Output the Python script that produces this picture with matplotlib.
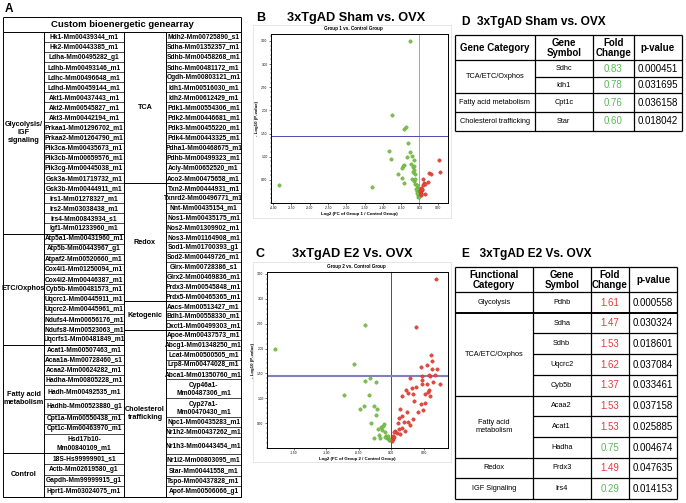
import matplotlib
matplotlib.use("Agg")
import matplotlib.pyplot as plt
import numpy as np

plt.rcParams["font.family"] = ["Liberation Sans", "DejaVu Sans"]

W, H = 686, 503

# ---- panel A: custom gene array ----
glyco_genes = ["Hk1-Mm00439344_m1", "Hk2-Mm00443385_m1", "Ldha-Mm00495282_g1",
               "Ldhb-Mm00493146_m1", "Ldhc-Mm00496648_m1", "Ldhd-Mm00459144_m1",
               "Akt1-Mm00437443_m1", "Akt2-Mm00545827_m1", "Akt3-Mm00442194_m1",
               "Prkaa1-Mm01296702_m1", "Prkaa2-Mm01264790_m1", "Pik3ca-Mm00435673_m1",
               "Pik3cb-Mm00659576_m1", "Pik3cg-Mm00445038_m1", "Gsk3a-Mm01719732_m1",
               "Gsk3b-Mm00444911_m1", "Irs1-Mm01278327_m1", "Irs2-Mm03038438_m1",
               "Irs4-Mm00843934_s1", "Igf1-Mm01233960_m1"]
etc_genes = ["Atp5a1-Mm00431960_m1", "Atp5b-Mm00443967_g1", "Atpaf2-Mm00520660_m1",
             "Cox4i1-Mm01250094_m1", "Cox4i2-Mm00446387_m1", "Cyb5b-Mm00481573_m1",
             "Uqcrc1-Mm00445911_m1", "Uqcrc2-Mm00445961_m1", "Ndufs4-Mm00656176_m1",
             "Ndufs8-Mm00523063_m1", "Uqcrfs1-Mm00481849_m1"]
fatty_genes = ["Acat1-Mm00507463_m1", "Acaa1a-Mm00728460_s1", "Acaa2-Mm00624282_m1",
               "Hadha-Mm00805228_m1", "Hadh-Mm00492535_m1", "Hadhb-Mm00523880_g1",
               "Cpt1a-Mm00550438_m1", "Cpt1c-Mm00463970_m1", "Hsd17b10-\nMm00840109_m1"]
control_genes = ["18S-Hs99999901_s1", "Actb-Mm02619580_g1", "Gapdh-Mm99999915_g1",
                 "Hprt1-Mm03024075_m1"]
tca_genes = ["Mdh2-Mm00725890_s1", "Sdha-Mm01352357_m1", "Sdhb-Mm00458268_m1",
             "Sdhc-Mm00481172_m1", "Ogdh-Mm00803121_m1", "Idh1-Mm00516030_m1",
             "Idh2-Mm00612429_m1", "Pdk1-Mm00554306_m1", "Pdk2-Mm00446681_m1",
             "Pdk3-Mm00455220_m1", "Pdk4-Mm00443325_m1", "Pdha1-Mm00468675_m1",
             "Pdhb-Mm00499323_m1", "Acly-Mm00652520_m1", "Aco2-Mm00475658_m1"]
redox_genes = ["Txn2-Mm00444931_m1", "Txnrd2-Mm00496771_m1", "Nnt-Mm00435154_m1",
               "Nos1-Mm00435175_m1", "Nos2-Mm01309902_m1", "Nos3-Mm01164908_m1",
               "Sod1-Mm01700393_g1", "Sod2-Mm00449726_m1", "Glrx-Mm00728386_s1",
               "Glrx2-Mm00469836_m1", "Prdx3-Mm00545848_m1", "Prdx5-Mm00465365_m1"]
keto_genes = ["Aacs-Mm00513427_m1", "Bdh1-Mm00558330_m1", "Oxct1-Mm00499303_m1"]
chol_genes = ["Apoe-Mm00437573_m1", "Abcg1-Mm01348250_m1", "Lcat-Mm00500505_m1",
              "Lrp8-Mm00474028_m1", "Abca1-Mm01350760_m1", "Cyp46a1-\nMm00487306_m1",
              "Cyp27a1-\nMm00470430_m1", "Npc1-Mm00435283_m1", "Nr1h2-Mm00437262_m1",
              "Nr1h3-Mm00443454_m1", "Nr1i2-Mm00803095_m1", "Star-Mm00441558_m1",
              "Tspo-Mm00437828_m1", "Apof-Mm00506066_g1"]

left_labels = ["Glycolysis/\nIGF\nsignaling", "ETC/Oxphos", "Fatty acid\nmetabolism", "Control"]
right_labels = ["TCA", "Redox", "Ketogenic", "Cholesterol\ntrafficking"]

# ---- panel B: Sham vs OVX volcano (log2 FC, -log10 p) ----
b_green_x = [-0.27, -0.74, -0.37, -0.41, -0.31, -0.83, -0.79, -0.25, -0.35, -0.20,
             -0.16, -0.41, -0.45, -0.47, -0.19, -0.15, -0.58, -0.48, -0.42, -0.17,
             -0.13, -0.21, -0.15, -0.11, -0.08, -0.06, -0.05, -0.03, -0.01, -0.08,
             -0.10, -0.05, -0.04, -3.84, -1.31, -0.14, -0.22, -0.12, -0.07, -0.02]
b_green_y = [3.49, 1.89, 1.65, 1.60, 1.30, 1.13, 0.96, 1.10, 1.00, 1.01,
             0.93, 0.83, 0.80, 0.76, 0.77, 0.80, 0.62, 0.55, 0.44, 0.67,
             0.62, 0.52, 0.47, 0.42, 0.38, 0.33, 0.28, 0.22, 0.18, 0.26,
             0.31, 0.17, 0.14, 0.38, 0.35, 0.72, 0.85, 0.52, 0.22, 0.13]
b_red_x = [0.53, 0.55, 0.26, 0.31, 0.22, 0.10, 0.12, 0.09, 0.14, 0.05, 0.06, 0.02,
           0.04, 0.08, 0.16, 0.03, 0.05]
b_red_y = [0.93, 0.68, 0.65, 0.62, 0.46, 0.52, 0.43, 0.39, 0.40, 0.33, 0.28, 0.25,
           0.22, 0.31, 0.20, 0.17, 0.19]

# ---- panel C: E2 vs OVX volcano ----
c_green_x = [-0.41, -1.79, -0.58, -0.41, -0.33, -0.23, -0.72, -0.35, -0.48, -0.42,
             -0.26, -0.22, -0.23, -0.31, -0.21, -0.16, -0.13, -0.11, -0.14, -0.19,
             -0.26, -0.18, -0.09, -0.08, -0.06, -0.04, -0.03, -0.05, -0.09, -0.02]
c_green_y = [2.47, 2.00, 1.69, 1.34, 1.40, 1.33, 1.06, 1.06, 0.79, 0.85,
             0.85, 0.78, 0.67, 0.50, 0.39, 0.42, 0.44, 0.48, 0.36, 0.26,
             0.20, 0.20, 0.32, 0.24, 0.20, 0.17, 0.19, 0.24, 0.22, 0.16]
c_red_x = [0.69, 0.38, 0.61, 0.62, 0.55, 0.70, 0.45, 0.62, 0.60, 0.67, 0.58, 0.47,
           0.29, 0.47, 0.47, 0.75, 0.64, 0.54, 0.38, 0.32, 0.22, 0.25, 0.34, 0.58,
           0.56, 0.52, 0.59, 0.17, 0.35, 0.46, 0.51, 0.48, 0.24, 0.13, 0.17, 0.34,
           0.19, 0.25, 0.28, 0.11, 0.10, 0.17, 0.12, 0.21, 0.06, 0.04, 0.08, 0.02,
           0.02, 0.04, 0.01, 0.13, 0.41]
c_red_y = [3.40, 2.43, 1.88, 1.74, 1.67, 1.58, 1.63, 1.58, 1.45, 1.47, 1.47, 1.45,
           1.41, 1.36, 1.28, 1.28, 1.33, 1.28, 1.22, 1.20, 1.17, 1.11, 1.09, 1.16,
           1.13, 1.08, 1.04, 1.04, 0.95, 0.89, 0.91, 0.77, 0.73, 0.78, 0.65, 0.59,
           0.52, 0.52, 0.46, 0.61, 0.50, 0.41, 0.38, 0.35, 0.35, 0.33, 0.31, 0.24,
           0.19, 0.22, 0.15, 0.29, 0.73]

# ---- panel D / E tables ----
d_header = ["Gene Category", "Gene\nSymbol", "Fold\nChange", "p-value"]
d_categories = ["TCA/ETC/Oxphos", "Fatty acid metabolism", "Cholesterol trafficking"]
d_cat_rows = [2, 1, 1]
d_symbols = ["Sdhc", "Idh1", "Cpt1c", "Star"]
d_fold = [0.83, 0.78, 0.76, 0.60]
d_pvals = ["0.000451", "0.031695", "0.036158", "0.018042"]

e_header = ["Functional\nCategory", "Gene\nSymbol", "Fold\nChange", "p-value"]
e_categories = ["Glycolysis", "TCA/ETC/Oxphos", "Fatty acid\nmetabolism", "Redox", "IGF Signaling"]
e_cat_rows = [1, 4, 3, 1, 1]
e_symbols = ["Pdhb", "Sdha", "Sdhb", "Uqcrc2", "Cyb5b", "Acaa2", "Acat1", "Hadha", "Prdx3", "Irs4"]
e_fold = [1.61, 1.47, 1.53, 1.62, 1.37, 1.53, 1.53, 0.75, 1.49, 0.29]
e_pvals = ["0.000558", "0.030324", "0.018601", "0.037084", "0.033461",
           "0.037158", "0.025885", "0.004674", "0.047635", "0.014153"]

GREEN_PT = "#7cc04e"
RED_PT = "#e8473d"
GREEN_TXT = "#5cb85a"
RED_TXT = "#e0393b"

fig = plt.figure(figsize=(W / 100, H / 100), dpi=100)
base = fig.add_axes([0, 0, 1, 1])
base.set_xlim(0, W)
base.set_ylim(H, 0)
base.axis("off")


def hline(x0, x1, y, lw=0.7):
    base.plot([x0, x1], [y, y], color="black", lw=lw, solid_capstyle="butt")


def vline(x, y0, y1, lw=0.7):
    base.plot([x, x], [y0, y1], color="black", lw=lw, solid_capstyle="butt")


def px_axes(left, top, right, bottom):
    return fig.add_axes([left / W, 1 - bottom / H, (right - left) / W, (bottom - top) / H])


# ================= panel A =================
base.text(5, 9, "A", fontsize=8.5, fontweight="bold", va="center", ha="left")
ax_l, ax_c1, ax_m, ax_c2, ax_r = 3, 44, 124, 166, 241
top, head_bot, bot = 17, 31.5, 497
hline(ax_l, ax_r, top)
hline(ax_l, ax_r, head_bot)
hline(ax_l, ax_r, bot)
vline(ax_l, top, bot)
vline(ax_r, top, bot)
for x in (ax_c1, ax_m, ax_c2):
    vline(x, head_bot, bot)
base.text((ax_l + ax_r) / 2, (top + head_bot) / 2 + 0.5, "Custom bioenergetic genearray",
          fontsize=6.8, fontweight="bold", ha="center", va="center")

left_groups = [
    (glyco_genes, [1] * 20, (31.5, 233.5)),
    (etc_genes, [1] * 11, (233.5, 344.5)),
    (fatty_genes, [1, 1, 1, 1, 1.45, 1.45, 1, 1, 1.95], (344.5, 453)),
    (control_genes, [1] * 4, (453, bot)),
]
right_groups = [
    (tca_genes, [1] * 15, (31.5, 183)),
    (redox_genes, [1] * 12, (183, 301)),
    (keto_genes, [1] * 3, (301, 330)),
    (chol_genes, [1, 1, 1, 1, 1, 1.9, 1.9, 1, 1, 1.8, 1.08, 1.08, 1.08, 1.08], (330, bot)),
]


def draw_side(groups, labels, xc0, xg0, xg1):
    for (genes, units, (y0, y1)), label in zip(groups, labels):
        h = (y1 - y0) / sum(units)
        y = y0
        for gene, u in zip(genes, units):
            base.text((xg0 + xg1) / 2, y + u * h / 2 + 0.3, gene, fontsize=4.8,
                      fontweight="bold", ha="center", va="center", linespacing=1.05)
            y += u * h
            if y < y1 - 0.5:
                hline(xg0, xg1, y, lw=0.5)
        hline(xc0, xg1, y1)
        base.text((xc0 + xg0) / 2, (y0 + y1) / 2, label, fontsize=5.2,
                  fontweight="bold", ha="center", va="center", linespacing=1.15)


draw_side(left_groups, left_labels, ax_l, ax_c1, ax_m)
draw_side(right_groups, right_labels, ax_m, ax_c2, ax_r)


# ================= panels B & C =================
def volcano(ax, gx, gy, rx, ry, xlim, ylim, xticks, yticks, thr, vcol, hcol, hlw, xlabel):
    ax.set_facecolor("white")
    ax.axvline(0, color=vcol, lw=0.6, zorder=1)
    ax.axhline(thr, color=hcol, lw=hlw, zorder=1)
    ax.scatter(gx, gy, s=6, c=GREEN_PT, edgecolors="#5fa832", linewidths=0.3, zorder=3)
    ax.scatter(rx, ry, s=6, c=RED_PT, edgecolors="#c9302c", linewidths=0.3, zorder=3)
    ax.set_xlim(*xlim)
    ax.set_ylim(*ylim)
    ax.set_xticks(xticks)
    ax.set_yticks(yticks)
    ax.set_xticklabels(["%.2f" % t for t in xticks])
    ax.set_yticklabels(["%.2f" % t for t in yticks])
    ax.minorticks_on()
    ax.tick_params(which="major", labelsize=2.3, length=1.5, width=0.4, pad=1)
    ax.tick_params(which="minor", length=0.8, width=0.3)
    for s in ax.spines.values():
        s.set_linewidth(0.7)
    ax.set_xlabel(xlabel, fontsize=3.2, fontweight="bold", labelpad=1)
    ax.set_ylabel("- Log10 (P-value)", fontsize=3.2, fontweight="bold", labelpad=1.5)


# light frames around volcano panels
for (x0, y0, x1, y1) in [(253, 25, 451, 218), (253, 262, 451, 462)]:
    base.add_patch(plt.Rectangle((x0, y0), x1 - x0, y1 - y0, fill=False,
                                 edgecolor="#e2e2e2", lw=0.6))

base.text(256, 17.5, "B", fontsize=9, fontweight="bold", ha="left", va="center")
base.text(356, 17.5, "3xTgAD Sham vs. OVX", fontsize=9.2, fontweight="bold",
          ha="center", va="center")
base.text(353, 28.5, "Group 1 vs. Control Group", fontsize=3.3, fontweight="bold",
          ha="center", va="center")
axB = px_axes(271, 34, 448, 203)
volcano(axB, b_green_x, b_green_y, b_red_x, b_red_y, (-4.06, 0.78), (0, 3.65),
        np.arange(-4.0, 0.51, 0.5), np.arange(0.5, 3.51, 0.5), 1.44,
        "#999999", "#4b4bb0", 0.7, "Log2 (FC of Group 1 / Control Group)")

base.text(256, 254, "C", fontsize=9, fontweight="bold", ha="left", va="center")
base.text(352, 254, "3xTgAD E2 Vs. OVX", fontsize=9.2, fontweight="bold",
          ha="center", va="center")
base.text(356, 266.5, "Group 2 vs. Control Group", fontsize=3.3, fontweight="bold",
          ha="center", va="center")
axC = px_axes(267, 272, 448, 448)
volcano(axC, c_green_x, c_green_y, c_red_x, c_red_y, (-1.91, 0.87), (0, 3.54),
        np.arange(-1.5, 0.51, 0.5), np.arange(0.5, 3.51, 0.5), 1.45,
        "#333333", "#8080c0", 1.5, "Log2 (FC of Group 2 / Control Group)")


# ================= panels D & E =================
def draw_table(cols, header_y, row_edges, header, categories, cat_rows, symbols,
               folds, pvals, cat_size, thick_after=None):
    x0, x1, x2, x3, x4 = cols
    ytop, yhead = header_y
    yb = row_edges[-1]
    hline(x0, x4, ytop, lw=0.9)
    hline(x0, x4, yhead, lw=0.9)
    for x in cols:
        vline(x, ytop, yb, lw=0.9)
    centers = [(x0 + x1) / 2, (x1 + x2) / 2, (x2 + x3) / 2, (x3 + x4) / 2]
    for cx, txt in zip(centers, header):
        base.text(cx, (ytop + yhead) / 2 + 0.5, txt, fontsize=7, fontweight="bold",
                  ha="center", va="center", linespacing=1.05)
    r = 0
    for gi, (cat, n) in enumerate(zip(categories, cat_rows)):
        ya, yz = row_edges[r], row_edges[r + n]
        base.text(centers[0], (ya + yz) / 2, cat, fontsize=cat_size, ha="center",
                  va="center", linespacing=1.1)
        lw = 1.4 if thick_after is not None and gi == thick_after else 0.9
        hline(x0, x4, yz, lw=lw)
        for k in range(n):
            i = r + k
            yc = (row_edges[i] + row_edges[i + 1]) / 2
            base.text(centers[1], yc, symbols[i], fontsize=cat_size, ha="center", va="center")
            base.text(centers[2], yc + 0.3, "%.2f" % folds[i], fontsize=7, ha="center",
                      va="center", color=GREEN_TXT if folds[i] < 1 else RED_TXT)
            base.text(centers[3], yc + 0.3, pvals[i], fontsize=7, ha="center", va="center")
            if k < n - 1:
                hline(x1, x4, row_edges[i + 1], lw=0.9)
        r += n


base.text(462, 22, "D  3xTgAD Sham vs. OVX", fontsize=8.6, fontweight="bold",
          ha="left", va="center")
draw_table((455, 534.7, 592.7, 633.7, 682), (34.7, 60), [60, 76.7, 93.3, 111.7, 130.7],
           d_header, d_categories, d_cat_rows, d_symbols, d_fold, d_pvals, 5.3)

base.text(462, 253.5, "E   3xTgAD E2 Vs. OVX", fontsize=8.6, fontweight="bold",
          ha="left", va="center")
e_edges = list(np.linspace(292, 499, 11))
draw_table((455, 532.7, 590.7, 629.3, 677), (266.7, 292), e_edges,
           e_header, e_categories, e_cat_rows, e_symbols, e_fold, e_pvals, 5.3,
           thick_after=0)

fig.savefig("out.png", dpi=100)
